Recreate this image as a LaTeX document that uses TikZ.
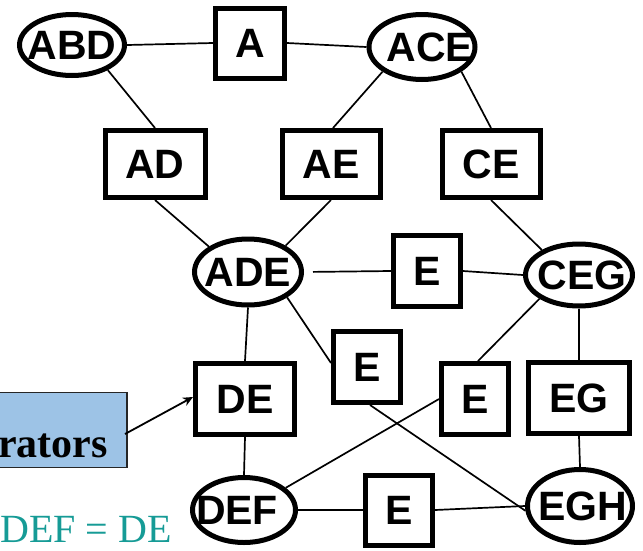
\documentclass[tikz,border=0pt]{standalone}
\usepackage{fontspec}
\setmainfont{Liberation Serif}
\setsansfont{Liberation Sans}
\usetikzlibrary{arrows.meta,shapes.geometric}
\definecolor{sepblue}{RGB}{157,195,230}
\definecolor{eqteal}{RGB}{22,155,150}
\tikzset{
  lbl/.style={font=\sffamily\bfseries\fontsize{41}{45}\selectfont, inner sep=0pt},
  clique/.style={ellipse, draw, line width=5pt, inner sep=0pt},
  sepnode/.style={rectangle, draw, line width=5pt, inner sep=0pt, lbl},
  link/.style={line width=1.7pt},
}
\begin{document}
\begin{tikzpicture}[x=1pt, y=-1pt]
\useasboundingbox (0,0) rectangle (643,550);
\clip (0,0) rectangle (643,550);

% clique nodes (ellipses), labels may run past the outline
\node[clique, minimum width=105, minimum height=61, label={[lbl]center:ABD}] (abd) at (72,45) {};
\node[clique, minimum width=106, minimum height=65, label={[lbl, xshift=8]center:ACE}] (ace) at (422,47) {};
\node[clique, minimum width=107, minimum height=66, label={[lbl]center:ADE}] (ade) at (248,272) {};
\node[clique, minimum width=107, minimum height=62, label={[lbl, xshift=3]center:CEG}] (ceg) at (579,275) {};
\node[clique, minimum width=103, minimum height=65, label={[lbl, xshift=-7]center:DEF}] (def) at (244,510) {};
\node[clique, minimum width=105, minimum height=73, label={[lbl, xshift=3]center:EGH}] (egh) at (580,506) {};

% separator nodes (boxes)
\node[sepnode, minimum width=69, minimum height=70] (a) at (250,43) {A};
\node[sepnode, minimum width=100, minimum height=67] (ad) at (155,164) {AD};
\node[sepnode, minimum width=98, minimum height=67] (ae) at (331,164) {AE};
\node[sepnode, minimum width=98, minimum height=67] (ce) at (491,164) {CE};
\node[sepnode, minimum width=67, minimum height=71] (emid) at (427,271) {E};
\node[sepnode, minimum width=67, minimum height=71] (ediag) at (367,367) {E};
\node[sepnode, minimum width=99, minimum height=71] (de) at (245,399) {DE};
\node[sepnode, minimum width=67, minimum height=71] (eright) at (475,399) {E};
\node[sepnode, minimum width=101, minimum height=71] (eg) at (579,398) {EG};
\node[sepnode, minimum width=67, minimum height=70] (ebot) at (399,510) {E};

% junction tree edges
\draw[link] (abd.east) -- (a.west);
\draw[link] (a.east) -- (ace.west);
\draw[link] (abd.-35) -- (ad.north);
\draw[link] (ace.-148) -- ([xshift=2]ae.north);
\draw[link] (ace.-32) -- (ce.north);
\draw[link] (ad.south) -- (ade.147);
\draw[link] (ae.south) -- (ade.35);
\draw[link] (ce.south) -- (ceg.146);
\draw[link, shorten <=9pt] (ade.east) -- (emid.west);
\draw[link] (emid.east) -- (ceg.west);
\draw[link] (ade.south) -- (de.north);
\draw[link] (ade.-33) -- ([yshift=4]ediag.west);
\draw[link] (ceg.-149) -- ([xshift=3]eright.north);
\draw[link] (ceg.south) -- (eg.north);
\draw[link] (de.south) -- (def.north);
\draw[link] (def.28) -- (eright.west);
\draw[link] ([xshift=3]ediag.south) -- (egh.-175);
\draw[link] (eg.south) -- (egh.north);
\draw[link] (def.east) -- (ebot.west);
\draw[link] (ebot.east) -- (egh.west);

% callout box pointing at the DE separator
\node[rectangle, draw=black!85, line width=1.6pt, fill=sepblue, anchor=east,
      minimum width=150, minimum height=75, inner sep=0pt] (sepbox) at (128,430) {};
\node[anchor=base east, inner sep=0pt, font=\bfseries\fontsize{42}{46}\selectfont] (septext) at (108,457) {rators};
\coordinate (arrstart) at (125,434);
\draw[line width=1.8pt, -{Stealth[length=10pt, width=9pt]}] (arrstart) -- ([yshift=2]de.west);

% intersection note
\node[anchor=base east, inner sep=0pt, text=eqteal, font=\fontsize{40}{44}\selectfont] (note) at (172,542) {DEF = DE};
\end{tikzpicture}
\end{document}
